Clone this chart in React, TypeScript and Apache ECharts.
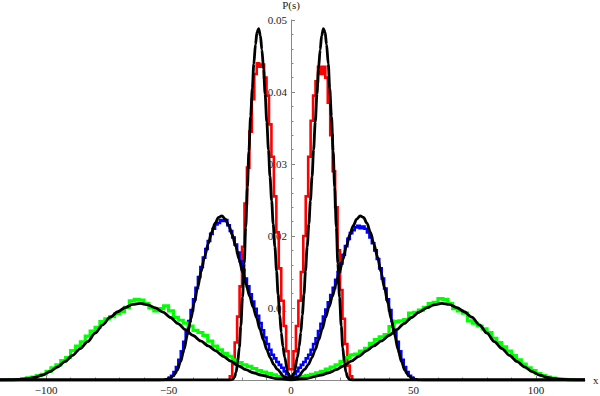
import React, { useEffect, useRef } from "react";
import * as echarts from "echarts";

// Axis range and ticks
const X_MIN = -118.8;
const X_MAX = 120;
const xMajorTicks = [-100, -50, 0, 50, 100];
const xMinorTicks = [-110, -90, -80, -70, -60, -40, -30, -20, -10, 10, 20, 30, 40, 60, 70, 80, 90, 110];
const Y_MAX = 0.05;

// Smooth theory curves (x >= 0 half, mirrored for x < 0)
const redCurveX = [0, 1.3, 2.6, 3.3, 4, 4.6, 5.3, 5.9, 6.6, 7.3, 7.9, 8.6, 9.2, 9.9, 10.6, 11.2, 11.9, 12.5, 13.2, 13.9, 14.5, 15.2, 15.8, 16.5, 17.2, 17.8, 18.5, 19.1, 19.8, 20.5, 21.1, 21.8, 22.4, 23.1, 23.8, 24.4, 25.1, 120];
const redCurveY = [0, 0.00098, 0.00317, 0.00464, 0.00659, 0.00903, 0.01196, 0.01513, 0.01854, 0.02172, 0.02489, 0.0283, 0.03196, 0.03587, 0.03977, 0.04319, 0.04587, 0.04782, 0.0488, 0.04831, 0.0466, 0.04392, 0.0405, 0.0366, 0.0318, 0.0268, 0.0212, 0.0162, 0.0115, 0.0075, 0.0045, 0.0024, 0.0011, 0.0004, 0.0001, 0.00002, 0, 0];

const blueCurveX = [0, 2.8, 5.6, 7.1, 8.5, 9.9, 11.3, 12.7, 14.1, 15.5, 16.9, 18.3, 19.7, 21.2, 22.6, 24, 25.4, 26.8, 28.2, 29.6, 31, 32.4, 33.8, 35.3, 36.7, 38.1, 39.5, 40.9, 42.3, 43.7, 45.1, 46.5, 47.9, 49.4, 50.8, 52.2, 53.6, 120];
const blueCurveY = [0, 0.00046, 0.00148, 0.00217, 0.00308, 0.00422, 0.00559, 0.00707, 0.00866, 0.01015, 0.01163, 0.01322, 0.01493, 0.01676, 0.01858, 0.02018, 0.02143, 0.02234, 0.0228, 0.02257, 0.02177, 0.02052, 0.01892, 0.0171, 0.01505, 0.01288, 0.01072, 0.00844, 0.00627, 0.00422, 0.00251, 0.00132, 0.00062, 0.00025, 0.00009, 0.00002, 0, 0];

const greenCurveX = [0, 6.2, 12.3, 15.4, 18.5, 21.5, 24.6, 27.7, 30.8, 33.8, 36.9, 40, 43.1, 46.1, 49.2, 52.3, 55.4, 58.4, 61.5, 64.6, 67.7, 70.7, 73.8, 76.9, 80, 83, 86.1, 89.2, 92.3, 95.3, 98.4, 101.5, 104.6, 107.6, 110.7, 113.8, 116.9, 120];
const greenCurveY = [0, 0.00021, 0.00069, 0.00101, 0.00144, 0.00197, 0.00261, 0.0033, 0.00405, 0.00474, 0.00543, 0.00618, 0.00698, 0.00783, 0.00868, 0.00943, 0.01001, 0.01044, 0.01065, 0.01049, 0.01006, 0.00948, 0.00873, 0.00767, 0.0065, 0.00533, 0.00437, 0.00341, 0.00256, 0.00181, 0.00117, 0.00069, 0.00037, 0.00018, 0.00007, 0.00002, 0, 0];

// Histograms: bins of given width starting at given left edge
const RED_START = -25;
const RED_WIDTH = 1;
const redHistLeft = [0.0005, 0.0022, 0.0052, 0.0088, 0.013, 0.0185, 0.0245, 0.0295, 0.0345, 0.039, 0.0425, 0.044, 0.0435, 0.0438, 0.042, 0.0395, 0.0355, 0.031, 0.0255, 0.0205, 0.0155, 0.011, 0.0075, 0.004, 0.0015];
const redHistRight = [0.0015, 0.004, 0.0075, 0.011, 0.015, 0.02, 0.0255, 0.031, 0.036, 0.0395, 0.0415, 0.0435, 0.0425, 0.0435, 0.042, 0.0385, 0.034, 0.029, 0.024, 0.018, 0.0125, 0.0085, 0.005, 0.002, 0.0005];

const BLUE_START = -51;
const BLUE_WIDTH = 1;
const blueHistLeft = [0.0001, 0.0003, 0.0006, 0.0011, 0.0018, 0.0028, 0.004, 0.0053, 0.0067, 0.0082, 0.0097, 0.0112, 0.0128, 0.0143, 0.0157, 0.017, 0.0182, 0.0193, 0.0203, 0.021, 0.0216, 0.0218, 0.0222, 0.0221, 0.0222, 0.0215, 0.0207, 0.0198, 0.0188, 0.0177, 0.0165, 0.0153, 0.0141, 0.013, 0.0119, 0.0109, 0.0099, 0.0089, 0.0079, 0.0069, 0.0059, 0.005, 0.0042, 0.0035, 0.003, 0.0025, 0.0021, 0.0017, 0.0012, 0.0008, 0.0004];
const blueHistRight = [0.0004, 0.0008, 0.0012, 0.0017, 0.0021, 0.0025, 0.003, 0.0035, 0.0042, 0.005, 0.0058, 0.0068, 0.0078, 0.0088, 0.0098, 0.0108, 0.0118, 0.0128, 0.0139, 0.015, 0.0162, 0.0174, 0.0186, 0.0196, 0.0204, 0.0208, 0.0212, 0.0214, 0.0211, 0.0213, 0.021, 0.0205, 0.0198, 0.019, 0.018, 0.0168, 0.0155, 0.0141, 0.0127, 0.0112, 0.0097, 0.0082, 0.0067, 0.0053, 0.004, 0.0028, 0.0018, 0.0011, 0.0006, 0.0003, 0.0001];

const GREEN_START = -116;
const GREEN_WIDTH = 2;
const greenHistLeft = [0.00002, 0.00005, 0.0001, 0.0002, 0.0003, 0.0004, 0.0006, 0.0008, 0.0012, 0.0017, 0.0021, 0.0027, 0.0031, 0.0041, 0.0047, 0.0053, 0.0061, 0.0068, 0.0073, 0.0081, 0.0085, 0.0088, 0.0092, 0.0095, 0.0101, 0.011, 0.0112, 0.0111, 0.0106, 0.01, 0.0096, 0.0099, 0.0103, 0.0096, 0.0087, 0.0083, 0.0079, 0.0075, 0.0069, 0.0066, 0.0062, 0.0054, 0.0047, 0.0042, 0.0037, 0.0033, 0.0028, 0.0024, 0.0021, 0.0019, 0.0016, 0.0013, 0.0011, 0.0009, 0.0007, 0.0005, 0.0003, 0.0002];
const greenHistRight = [0.0002, 0.0003, 0.0005, 0.0006, 0.0008, 0.001, 0.0012, 0.0015, 0.0018, 0.0021, 0.0026, 0.0031, 0.0035, 0.0036, 0.004, 0.0044, 0.0051, 0.0056, 0.006, 0.0063, 0.0074, 0.0081, 0.0082, 0.0084, 0.0093, 0.0094, 0.0097, 0.0101, 0.0106, 0.0108, 0.0113, 0.0112, 0.0106, 0.0099, 0.0096, 0.0093, 0.0082, 0.0079, 0.0075, 0.0071, 0.0066, 0.0058, 0.0052, 0.0046, 0.004, 0.0034, 0.0028, 0.0022, 0.0017, 0.0013, 0.0009, 0.0006, 0.0004, 0.00025, 0.00015, 0.0001, 0.00005, 0.00002];

const SERIF = "'Liberation Serif', 'DejaVu Serif', serif";

// Layout
const CHART_W = 600;
const CHART_H = 396;
const GRID_LEFT = 0;
const GRID_RIGHT = 15;
const GRID_TOP = 20;
const GRID_BOTTOM = 16;

function histOutline(start: number, width: number, values: number[]): number[][] {
  const pts: number[][] = [[start, 0]];
  values.forEach((v, i) => {
    pts.push([start + i * width, v]);
    pts.push([start + (i + 1) * width, v]);
  });
  pts.push([start + values.length * width, 0]);
  return pts;
}

function half(xs: number[], ys: number[], sign: number): number[][] {
  const pts = xs.map((x, i) => [sign * x, ys[i]]);
  return sign < 0 ? pts.reverse() : pts;
}

export default function App() {
  const ref = useRef<HTMLDivElement>(null);
  useEffect(() => {
    if (!ref.current) return;
    const chart = echarts.init(ref.current, undefined, { renderer: "svg" });

    const gridW = CHART_W - GRID_LEFT - GRID_RIGHT;
    // shift the y axis from the grid's left edge to x = 0
    const yAxisOffset = -((0 - X_MIN) / (X_MAX - X_MIN)) * gridW;

    const histSeries = (name: string, color: string, data: number[][], width: number) => ({
      name,
      type: "line",
      data,
      symbol: "none",
      silent: true,
      lineStyle: { color, width, join: "miter" },
      z: 2,
    });
    const curveSeries = (data: number[][]) => ({
      type: "line",
      data,
      symbol: "none",
      silent: true,
      smooth: 0.3,
      smoothMonotone: "x",
      lineStyle: { color: "#000000", width: 2.8 },
      z: 3,
    });

    chart.setOption({
      animation: false,
      backgroundColor: "#ffffff",
      grid: {
        left: GRID_LEFT,
        right: GRID_RIGHT,
        top: GRID_TOP,
        bottom: GRID_BOTTOM,
        containLabel: false,
        outerBoundsMode: "none",
      },
      xAxis: [
        {
          type: "value",
          min: X_MIN,
          max: X_MAX,
          name: "x",
          nameLocation: "end",
          nameGap: 8,
          nameTextStyle: { fontFamily: SERIF, fontSize: 11, color: "#222", padding: [4, 0, 0, 0] },
          axisLine: { show: true, onZero: false, lineStyle: { color: "#888888", width: 1 } },
          axisTick: { show: true, inside: true, length: 4, customValues: xMajorTicks, lineStyle: { color: "#888888" } },
          axisLabel: {
            show: true,
            customValues: xMajorTicks,
            margin: 4,
            fontFamily: SERIF,
            fontSize: 11,
            color: "#222",
            formatter: (v: number) => (v < 0 ? "\u2212" + Math.abs(v) : String(v)),
          },
          splitLine: { show: false },
        },
        {
          type: "value",
          min: X_MIN,
          max: X_MAX,
          position: "bottom",
          axisLine: { show: false, onZero: false },
          axisTick: { show: true, inside: true, length: 2.5, customValues: xMinorTicks, lineStyle: { color: "#888888" } },
          axisLabel: { show: false },
          splitLine: { show: false },
        },
      ],
      yAxis: {
        type: "value",
        min: 0,
        max: Y_MAX,
        interval: 0.01,
        position: "left",
        offset: yAxisOffset,
        name: "P(s)",
        nameLocation: "end",
        nameGap: 10,
        nameTextStyle: { fontFamily: SERIF, fontSize: 11, color: "#222" },
        axisLine: { show: true, onZero: false, lineStyle: { color: "#888888", width: 1 } },
        axisTick: { show: true, inside: true, length: 4, lineStyle: { color: "#888888" } },
        minorTick: { show: true, splitNumber: 5, length: 2.5, lineStyle: { color: "#888888" } },
        axisLabel: {
          show: true,
          margin: 4,
          fontFamily: SERIF,
          fontSize: 11,
          color: "#222",
          formatter: (v: number) => (v === 0 ? "" : v.toFixed(2)),
        },
        splitLine: { show: false },
      },
      series: [
        histSeries("red", "#ff0000", histOutline(RED_START, RED_WIDTH, [...redHistLeft, ...redHistRight]), 2.6),
        histSeries("blue", "#0000ff", histOutline(BLUE_START, BLUE_WIDTH, [...blueHistLeft, ...blueHistRight]), 2.6),
        histSeries("green", "#00ff00", histOutline(GREEN_START, GREEN_WIDTH, [...greenHistLeft, ...greenHistRight]), 3.2),
        curveSeries(half(redCurveX, redCurveY, -1)),
        curveSeries(half(redCurveX, redCurveY, 1)),
        curveSeries(half(blueCurveX, blueCurveY, -1)),
        curveSeries(half(blueCurveX, blueCurveY, 1)),
        curveSeries(half(greenCurveX, greenCurveY, -1)),
        curveSeries(half(greenCurveX, greenCurveY, 1)),
      ],
    });
    return () => chart.dispose();
  }, []);
  return <div ref={ref} style={{ width: CHART_W, height: CHART_H, position: "absolute", left: 0, top: 0 }} />;
}
